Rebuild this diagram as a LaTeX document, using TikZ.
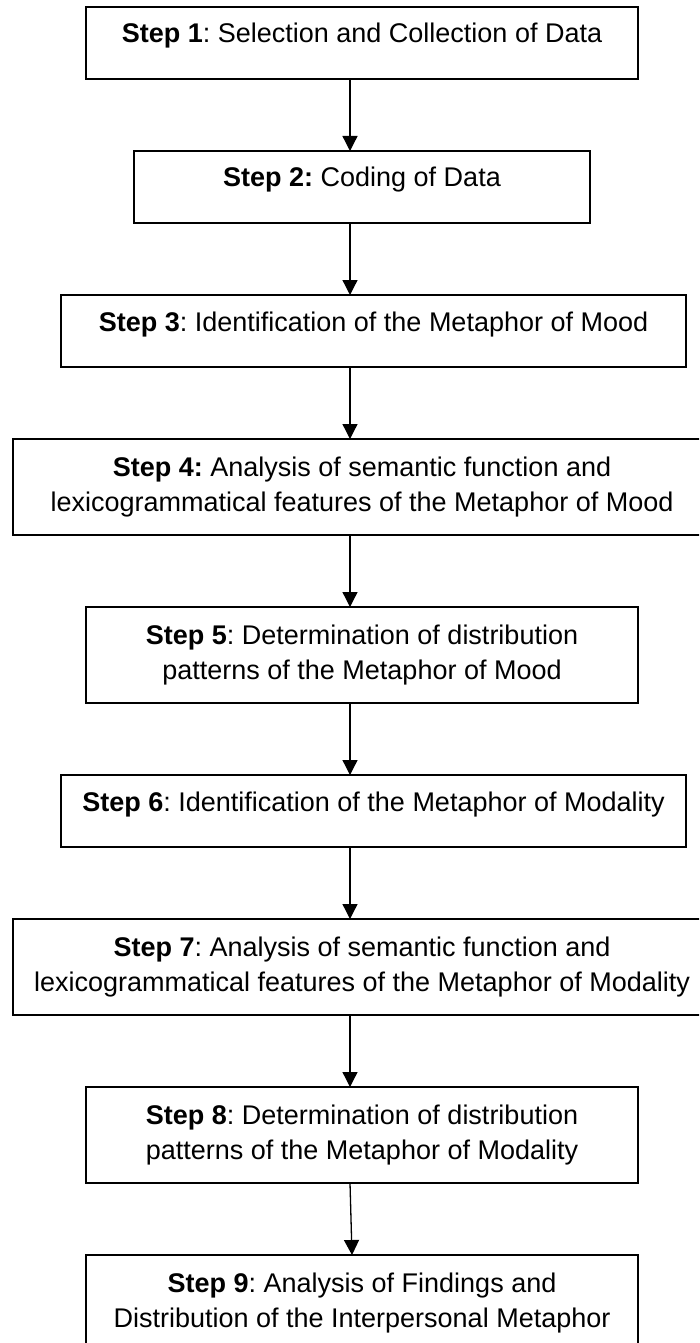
\documentclass[tikz,border=0pt]{standalone}
\usepackage{fontspec}
\setmainfont{Liberation Sans}
\usepackage{tikz}
\usetikzlibrary{arrows.meta}
\frenchspacing

\begin{document}
\begin{tikzpicture}[x=1pt, y=1pt, >={Triangle[length=15pt, width=15pt]},
  every node/.style={font=\fontsize{27}{34.5}\selectfont},
  stepbox/.style={draw, line width=1.5pt, anchor=north, inner xsep=0pt, outer sep=0pt},
  onebox/.style={stepbox, inner ysep=0pt, text height=36pt, text depth=36pt},
  twobox/.style={stepbox, align=center, minimum height=96pt}]
  % boxes hang from their top edge, the arrows run down x = \ax
  \def\cx{362}
  \def\cw{373.5}
  \def\ax{350}
  \useasboundingbox (0, 0) rectangle (699, -1343);
  \clip (0, 0) rectangle (699, -1343);
  \coordinate (axis) at (\ax, 0);
  \coordinate (axislow) at (\ax + 2, 0);

  \node [onebox, minimum width=552pt] (s1) at (\cx, -7) {\textbf{Step 1}: Selection and Collection of Data};
  \node [onebox, minimum width=456pt] (s2) at (\cx, -151) {\textbf{Step 2:} Coding of Data};
  \node [onebox, minimum width=625pt] (s3) at (\cw, -295) {\textbf{Step 3}: Identification of the Metaphor of Mood};
  \node [twobox, minimum width=698pt] (s4) at (\cx, -439) {\textbf{Step 4:} Analysis of semantic function and\\lexicogrammatical features of the Metaphor of Mood};
  \node [twobox, minimum width=552pt] (s5) at (\cx, -607) {\textbf{Step 5}: Determination of distribution\\patterns of the Metaphor of Mood};
  \node [onebox, minimum width=625pt] (s6) at (\cw, -775) {\textbf{Step 6}: Identification of the Metaphor of Modality};
  \node [twobox, minimum width=698pt] (s7) at (\cx, -919) {\textbf{Step 7}: Analysis of semantic function and\\lexicogrammatical features of the Metaphor of Modality};
  \node [twobox, minimum width=552pt] (s8) at (\cx, -1087) {\textbf{Step 8}: Determination of distribution\\patterns of the Metaphor of Modality};
  \node [twobox, minimum width=552pt] (s9) at (\cx, -1255) {\textbf{Step 9}: Analysis of Findings and\\Distribution of the Interpersonal Metaphor};

  \foreach \a/\b in {s1/s2, s2/s3, s3/s4, s4/s5, s5/s6, s6/s7, s7/s8}
    \draw [->, line width=1.3pt] (\a.south -| axis) -- (\b.north -| axis);
  \draw [->, line width=1.3pt] (s8.south -| axis) -- (s9.north -| axislow);
\end{tikzpicture}
\end{document}
